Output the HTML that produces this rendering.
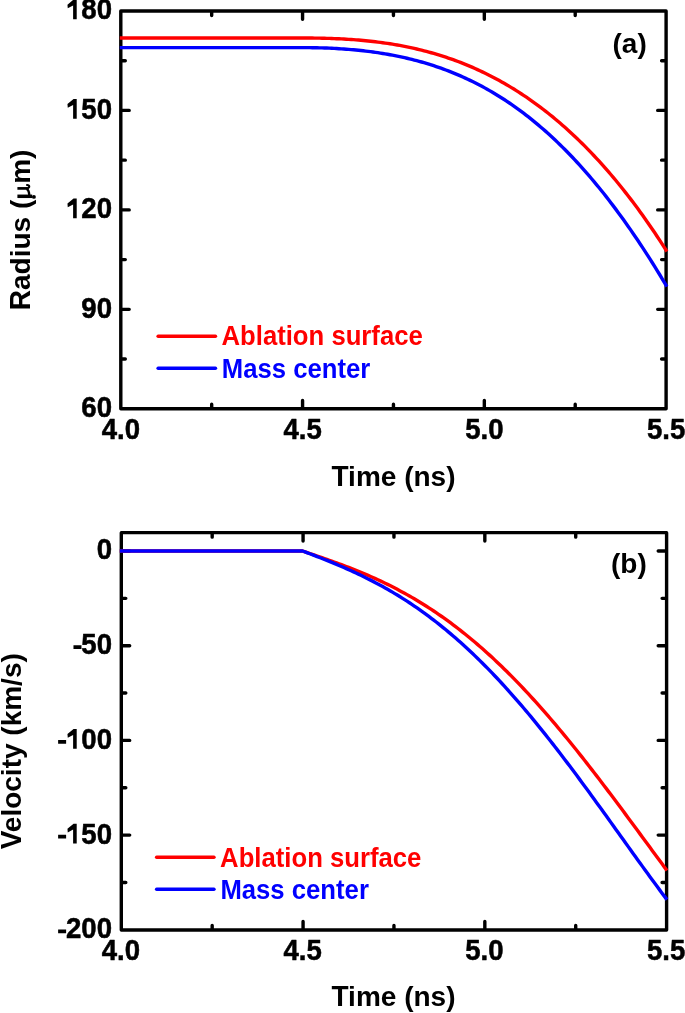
<!DOCTYPE html>
<html><head><meta charset="utf-8"><style>
html,body{margin:0;padding:0;background:#fff;}
body{width:685px;height:1013px;overflow:hidden;font-family:"Liberation Sans",sans-serif;}
svg{display:block;will-change:transform;}
</style></head><body>
<svg width="685" height="1013" viewBox="0 0 685 1013">
<rect x="120.8" y="10.95" width="545.30" height="397.85" fill="none" stroke="#000" stroke-width="3.4" stroke-linejoin="round"/>
<path d="M302.57,407.80 V400.40 M302.57,11.95 V19.35 M484.33,407.80 V400.40 M484.33,11.95 V19.35 M211.68,407.80 V404.30 M211.68,11.95 V15.45 M393.45,407.80 V404.30 M393.45,11.95 V15.45 M575.22,407.80 V404.30 M575.22,11.95 V15.45 M121.80,110.41 H129.20 M665.10,110.41 H657.70 M121.80,209.88 H129.20 M665.10,209.88 H657.70 M121.80,309.34 H129.20 M665.10,309.34 H657.70 M121.80,60.68 H125.30 M665.10,60.68 H661.60 M121.80,160.14 H125.30 M665.10,160.14 H661.60 M121.80,259.61 H125.30 M665.10,259.61 H661.60 M121.80,359.07 H125.30 M665.10,359.07 H661.60" stroke="#000" stroke-width="3.4" stroke-linecap="round" fill="none"/>
<g transform="translate(0.5,0)"><rect x="120.8" y="532.65" width="545.30" height="397.30" fill="none" stroke="#000" stroke-width="3.4" stroke-linejoin="round"/>
<path d="M302.57,928.95 V921.55 M302.57,533.65 V541.05 M484.33,928.95 V921.55 M484.33,533.65 V541.05 M211.68,928.95 V925.45 M211.68,533.65 V537.15 M393.45,928.95 V925.45 M393.45,533.65 V537.15 M575.22,928.95 V925.45 M575.22,533.65 V537.15 M121.80,551.00 H129.20 M665.10,551.00 H657.70 M121.80,645.70 H129.20 M665.10,645.70 H657.70 M121.80,740.40 H129.20 M665.10,740.40 H657.70 M121.80,835.10 H129.20 M665.10,835.10 H657.70 M121.80,598.35 H125.30 M665.10,598.35 H661.60 M121.80,693.05 H125.30 M665.10,693.05 H661.60 M121.80,787.75 H125.30 M665.10,787.75 H661.60 M121.80,882.45 H125.30 M665.10,882.45 H661.60" stroke="#000" stroke-width="3.4" stroke-linecap="round" fill="none"/></g>
<path d="M119.80,38.01 L302.57,38.01 L305.00,38.01 L307.42,38.02 L309.85,38.04 L312.28,38.06 L314.71,38.09 L317.14,38.12 L319.57,38.16 L322.00,38.21 L324.43,38.27 L326.86,38.33 L329.28,38.41 L331.71,38.49 L334.14,38.58 L336.57,38.68 L339.00,38.79 L341.43,38.91 L343.86,39.04 L346.29,39.18 L348.72,39.33 L351.14,39.49 L353.57,39.67 L356.00,39.85 L358.43,40.05 L360.86,40.26 L363.29,40.48 L365.72,40.71 L368.15,40.96 L370.58,41.22 L373.00,41.49 L375.43,41.78 L377.86,42.08 L380.29,42.39 L382.72,42.72 L385.15,43.07 L387.58,43.43 L390.01,43.80 L392.44,44.19 L394.86,44.60 L397.29,45.02 L399.72,45.45 L402.15,45.91 L404.58,46.38 L407.01,46.87 L409.44,47.37 L411.87,47.90 L414.30,48.44 L416.72,49.00 L419.15,49.57 L421.58,50.17 L424.01,50.79 L426.44,51.42 L428.87,52.07 L431.30,52.75 L433.73,53.44 L436.16,54.15 L438.58,54.88 L441.01,55.64 L443.44,56.41 L445.87,57.21 L448.30,58.03 L450.73,58.86 L453.16,59.72 L455.59,60.61 L458.02,61.51 L460.44,62.44 L462.87,63.39 L465.30,64.36 L467.73,65.36 L470.16,66.38 L472.59,67.43 L475.02,68.49 L477.45,69.59 L479.88,70.70 L482.30,71.85 L484.73,73.01 L487.16,74.21 L489.59,75.43 L492.02,76.67 L494.45,77.94 L496.88,79.24 L499.31,80.56 L501.74,81.91 L504.16,83.29 L506.59,84.69 L509.02,86.13 L511.45,87.59 L513.88,89.07 L516.31,90.59 L518.74,92.14 L521.17,93.71 L523.60,95.31 L526.02,96.95 L528.45,98.61 L530.88,100.30 L533.31,102.03 L535.74,103.78 L538.17,105.56 L540.60,107.38 L543.03,109.23 L545.46,111.10 L547.88,113.01 L550.31,114.96 L552.74,116.93 L555.17,118.94 L557.60,120.98 L560.03,123.05 L562.46,125.16 L564.89,127.30 L567.32,129.47 L569.74,131.68 L572.17,133.92 L574.60,136.20 L577.03,138.51 L579.46,140.86 L581.89,143.24 L584.32,145.66 L586.75,148.12 L589.18,150.61 L591.60,153.14 L594.03,155.71 L596.46,158.31 L598.89,160.95 L601.32,163.63 L603.75,166.35 L606.18,169.11 L608.61,171.90 L611.04,174.74 L613.46,177.61 L615.89,180.53 L618.32,183.48 L620.75,186.48 L623.18,189.51 L625.61,192.59 L628.04,195.70 L630.47,198.86 L632.90,202.07 L635.32,205.31 L637.75,208.59 L640.18,211.92 L642.61,215.30 L645.04,218.71 L647.47,222.17 L649.90,225.68 L652.33,229.22 L654.76,232.82 L657.18,236.46 L659.61,240.14 L662.04,243.87 L664.47,247.65 L666.90,251.47" stroke="#f00" stroke-width="3.4" fill="none" stroke-linejoin="round"/>
<path d="M119.80,47.61 L302.57,47.61 L305.00,47.61 L307.42,47.63 L309.85,47.65 L312.28,47.68 L314.71,47.72 L317.14,47.77 L319.57,47.83 L322.00,47.90 L324.43,47.98 L326.86,48.07 L329.28,48.17 L331.71,48.28 L334.14,48.40 L336.57,48.54 L339.00,48.68 L341.43,48.84 L343.86,49.00 L346.29,49.18 L348.72,49.37 L351.14,49.58 L353.57,49.79 L356.00,50.02 L358.43,50.26 L360.86,50.52 L363.29,50.79 L365.72,51.07 L368.15,51.36 L370.58,51.67 L373.00,52.00 L375.43,52.34 L377.86,52.69 L380.29,53.07 L382.72,53.45 L385.15,53.85 L387.58,54.27 L390.01,54.71 L392.44,55.16 L394.86,55.63 L397.29,56.12 L399.72,56.62 L402.15,57.14 L404.58,57.68 L407.01,58.24 L409.44,58.82 L411.87,59.42 L414.30,60.04 L416.72,60.67 L419.15,61.33 L421.58,62.01 L424.01,62.71 L426.44,63.43 L428.87,64.17 L431.30,64.93 L433.73,65.72 L436.16,66.52 L438.58,67.35 L441.01,68.21 L443.44,69.08 L445.87,69.99 L448.30,70.91 L450.73,71.86 L453.16,72.83 L455.59,73.83 L458.02,74.85 L460.44,75.90 L462.87,76.98 L465.30,78.08 L467.73,79.21 L470.16,80.36 L472.59,81.55 L475.02,82.76 L477.45,83.99 L479.88,85.26 L482.30,86.56 L484.73,87.88 L487.16,89.23 L489.59,90.61 L492.02,92.02 L494.45,93.46 L496.88,94.94 L499.31,96.44 L501.74,97.97 L504.16,99.53 L506.59,101.13 L509.02,102.76 L511.45,104.42 L513.88,106.11 L516.31,107.83 L518.74,109.59 L521.17,111.38 L523.60,113.20 L526.02,115.06 L528.45,116.95 L530.88,118.87 L533.31,120.83 L535.74,122.82 L538.17,124.85 L540.60,126.92 L543.03,129.02 L545.46,131.15 L547.88,133.32 L550.31,135.53 L552.74,137.77 L555.17,140.05 L557.60,142.36 L560.03,144.72 L562.46,147.10 L564.89,149.53 L567.32,151.99 L569.74,154.50 L572.17,157.04 L574.60,159.61 L577.03,162.23 L579.46,164.88 L581.89,167.57 L584.32,170.30 L586.75,173.07 L589.18,175.88 L591.60,178.73 L594.03,181.61 L596.46,184.54 L598.89,187.50 L601.32,190.51 L603.75,193.55 L606.18,196.63 L608.61,199.75 L611.04,202.92 L613.46,206.12 L615.89,209.36 L618.32,212.64 L620.75,215.96 L623.18,219.32 L625.61,222.72 L628.04,226.16 L630.47,229.64 L632.90,233.16 L635.32,236.72 L637.75,240.32 L640.18,243.96 L642.61,247.64 L645.04,251.36 L647.47,255.12 L649.90,258.92 L652.33,262.76 L654.76,266.64 L657.18,270.56 L659.61,274.51 L662.04,278.51 L664.47,282.54 L666.90,286.62" stroke="#00f" stroke-width="3.4" fill="none" stroke-linejoin="round"/>
<path d="M119.80,551.00 L302.57,551.00 L305.00,551.83 L307.42,552.66 L309.85,553.49 L312.28,554.32 L314.71,555.15 L317.14,555.99 L319.57,556.83 L322.00,557.68 L324.43,558.53 L326.86,559.38 L329.28,560.24 L331.71,561.11 L334.14,561.99 L336.57,562.88 L339.00,563.77 L341.43,564.67 L343.86,565.59 L346.29,566.51 L348.72,567.45 L351.14,568.40 L353.57,569.36 L356.00,570.33 L358.43,571.32 L360.86,572.32 L363.29,573.34 L365.72,574.37 L368.15,575.41 L370.58,576.47 L373.00,577.55 L375.43,578.65 L377.86,579.76 L380.29,580.89 L382.72,582.04 L385.15,583.21 L387.58,584.39 L390.01,585.60 L392.44,586.83 L394.86,588.07 L397.29,589.34 L399.72,590.63 L402.15,591.93 L404.58,593.26 L407.01,594.62 L409.44,595.99 L411.87,597.39 L414.30,598.80 L416.72,600.25 L419.15,601.71 L421.58,603.20 L424.01,604.71 L426.44,606.25 L428.87,607.81 L431.30,609.40 L433.73,611.01 L436.16,612.64 L438.58,614.30 L441.01,615.99 L443.44,617.70 L445.87,619.43 L448.30,621.19 L450.73,622.98 L453.16,624.79 L455.59,626.63 L458.02,628.50 L460.44,630.39 L462.87,632.30 L465.30,634.25 L467.73,636.22 L470.16,638.21 L472.59,640.24 L475.02,642.28 L477.45,644.36 L479.88,646.46 L482.30,648.59 L484.73,650.74 L487.16,652.92 L489.59,655.13 L492.02,657.36 L494.45,659.62 L496.88,661.91 L499.31,664.22 L501.74,666.56 L504.16,668.92 L506.59,671.31 L509.02,673.72 L511.45,676.16 L513.88,678.63 L516.31,681.12 L518.74,683.63 L521.17,686.17 L523.60,688.73 L526.02,691.32 L528.45,693.93 L530.88,696.57 L533.31,699.23 L535.74,701.91 L538.17,704.62 L540.60,707.35 L543.03,710.10 L545.46,712.87 L547.88,715.67 L550.31,718.49 L552.74,721.33 L555.17,724.19 L557.60,727.07 L560.03,729.97 L562.46,732.89 L564.89,735.83 L567.32,738.79 L569.74,741.77 L572.17,744.76 L574.60,747.78 L577.03,750.81 L579.46,753.86 L581.89,756.92 L584.32,760.01 L586.75,763.10 L589.18,766.22 L591.60,769.34 L594.03,772.49 L596.46,775.64 L598.89,778.81 L601.32,781.99 L603.75,785.19 L606.18,788.39 L608.61,791.61 L611.04,794.83 L613.46,798.07 L615.89,801.31 L618.32,804.57 L620.75,807.83 L623.18,811.10 L625.61,814.38 L628.04,817.66 L630.47,820.94 L632.90,824.24 L635.32,827.53 L637.75,830.83 L640.18,834.13 L642.61,837.44 L645.04,840.74 L647.47,844.05 L649.90,847.35 L652.33,850.66 L654.76,853.96 L657.18,857.26 L659.61,860.56 L662.04,863.85 L664.47,867.14 L666.90,870.42" stroke="#f00" stroke-width="3.4" fill="none" stroke-linejoin="round"/>
<path d="M119.80,551.00 L302.57,551.00 L305.00,551.92 L307.42,552.85 L309.85,553.78 L312.28,554.71 L314.71,555.65 L317.14,556.59 L319.57,557.54 L322.00,558.50 L324.43,559.46 L326.86,560.43 L329.28,561.42 L331.71,562.41 L334.14,563.41 L336.57,564.42 L339.00,565.45 L341.43,566.49 L343.86,567.54 L346.29,568.60 L348.72,569.68 L351.14,570.78 L353.57,571.89 L356.00,573.01 L358.43,574.15 L360.86,575.31 L363.29,576.49 L365.72,577.68 L368.15,578.90 L370.58,580.13 L373.00,581.38 L375.43,582.65 L377.86,583.94 L380.29,585.26 L382.72,586.59 L385.15,587.95 L387.58,589.32 L390.01,590.72 L392.44,592.15 L394.86,593.59 L397.29,595.06 L399.72,596.56 L402.15,598.08 L404.58,599.62 L407.01,601.18 L409.44,602.78 L411.87,604.39 L414.30,606.04 L416.72,607.70 L419.15,609.40 L421.58,611.12 L424.01,612.87 L426.44,614.64 L428.87,616.44 L431.30,618.27 L433.73,620.12 L436.16,622.00 L438.58,623.91 L441.01,625.85 L443.44,627.81 L445.87,629.81 L448.30,631.83 L450.73,633.87 L453.16,635.95 L455.59,638.05 L458.02,640.18 L460.44,642.34 L462.87,644.53 L465.30,646.74 L467.73,648.98 L470.16,651.25 L472.59,653.55 L475.02,655.88 L477.45,658.23 L479.88,660.61 L482.30,663.02 L484.73,665.46 L487.16,667.92 L489.59,670.41 L492.02,672.92 L494.45,675.47 L496.88,678.04 L499.31,680.64 L501.74,683.26 L504.16,685.91 L506.59,688.58 L509.02,691.28 L511.45,694.01 L513.88,696.76 L516.31,699.53 L518.74,702.33 L521.17,705.15 L523.60,708.00 L526.02,710.87 L528.45,713.76 L530.88,716.68 L533.31,719.62 L535.74,722.58 L538.17,725.56 L540.60,728.57 L543.03,731.59 L545.46,734.64 L547.88,737.70 L550.31,740.78 L552.74,743.89 L555.17,747.01 L557.60,750.15 L560.03,753.31 L562.46,756.48 L564.89,759.67 L567.32,762.88 L569.74,766.10 L572.17,769.34 L574.60,772.59 L577.03,775.85 L579.46,779.13 L581.89,782.42 L584.32,785.72 L586.75,789.03 L589.18,792.36 L591.60,795.69 L594.03,799.03 L596.46,802.38 L598.89,805.74 L601.32,809.11 L603.75,812.48 L606.18,815.86 L608.61,819.24 L611.04,822.62 L613.46,826.01 L615.89,829.40 L618.32,832.80 L620.75,836.19 L623.18,839.58 L625.61,842.98 L628.04,846.37 L630.47,849.76 L632.90,853.14 L635.32,856.52 L637.75,859.90 L640.18,863.26 L642.61,866.63 L645.04,869.98 L647.47,873.32 L649.90,876.66 L652.33,879.98 L654.76,883.29 L657.18,886.59 L659.61,889.87 L662.04,893.14 L664.47,896.39 L666.90,899.63" stroke="#00f" stroke-width="3.4" fill="none" stroke-linejoin="round"/>
<g font-family="'Liberation Sans', sans-serif" font-weight="bold" font-size="27.6" fill="#000" stroke="#000" stroke-width="0.5" stroke-linejoin="round"><text transform="translate(112.00,19.35) scale(1,1.1)" text-anchor="end"><tspan visibility="hidden">1</tspan>80</text>
<text transform="translate(112.00,118.81) scale(1,1.1)" text-anchor="end"><tspan visibility="hidden">1</tspan>50</text>
<text transform="translate(112.00,218.28) scale(1,1.1)" text-anchor="end"><tspan visibility="hidden">1</tspan>20</text>
<text transform="translate(112.00,317.74) scale(1,1.1)" text-anchor="end">90</text>
<text transform="translate(112.00,417.20) scale(1,1.1)" text-anchor="end">60</text>
<text transform="translate(112.00,559.40) scale(1,1.1)" text-anchor="end">0</text>
<text transform="translate(112.00,654.10) scale(1,1.1)" text-anchor="end">50</text>
<text transform="translate(112.00,748.80) scale(1,1.1)" text-anchor="end"><tspan visibility="hidden">1</tspan>00</text>
<text transform="translate(112.00,843.50) scale(1,1.1)" text-anchor="end"><tspan visibility="hidden">1</tspan>50</text>
<text transform="translate(112.00,938.20) scale(1,1.1)" text-anchor="end">200</text>
<text transform="translate(120.80,438.50) scale(1,1.1)" text-anchor="middle">4.0</text>
<text transform="translate(120.80,960.40) scale(1,1.1)" text-anchor="middle">4.0</text>
<text transform="translate(302.57,438.50) scale(1,1.1)" text-anchor="middle">4.5</text>
<text transform="translate(302.57,960.40) scale(1,1.1)" text-anchor="middle">4.5</text>
<text transform="translate(484.33,438.50) scale(1,1.1)" text-anchor="middle">5.0</text>
<text transform="translate(484.33,960.40) scale(1,1.1)" text-anchor="middle">5.0</text>
<text transform="translate(666.10,438.50) scale(1,1.1)" text-anchor="middle">5.5</text>
<text transform="translate(666.10,960.40) scale(1,1.1)" text-anchor="middle">5.5</text></g>
<path fill="#000" d="M76.71,19.35 L76.71,-0.45 L73.56,-0.45 L67.46,4.65 L67.76,8.25 L73.11,5.45 L73.11,19.35Z M76.71,118.81 L76.71,99.01 L73.56,99.01 L67.46,104.11 L67.76,107.71 L73.11,104.91 L73.11,118.81Z M76.71,218.28 L76.71,198.47 L73.56,198.47 L67.46,203.58 L67.76,207.18 L73.11,204.38 L73.11,218.28Z M76.71,748.80 L76.71,729.00 L73.56,729.00 L67.46,734.10 L67.76,737.70 L73.11,734.90 L73.11,748.80Z M76.71,843.50 L76.71,823.70 L73.56,823.70 L67.46,828.80 L67.76,832.40 L73.11,829.60 L73.11,843.50Z M73.47,645.30 h8.0 v3.8 h-8.0 Z M58.12,740.00 h8.0 v3.8 h-8.0 Z M58.12,834.70 h8.0 v3.8 h-8.0 Z M58.12,929.40 h8.0 v3.8 h-8.0 Z"/>
<g font-family="'Liberation Sans', sans-serif" font-weight="bold" font-size="28" fill="#000"><text transform="translate(331.50,485.90)"><tspan visibility="hidden">T</tspan>ime (ns)</text><text transform="translate(331.50,485.90) scale(1,1.06)">T</text>
<text transform="translate(331.50,1006.10)"><tspan visibility="hidden">T</tspan>ime (ns)</text><text transform="translate(331.50,1006.10) scale(1,1.06)">T</text>
<text transform="translate(29.90,310.20) rotate(-90)"><tspan visibility="hidden">R</tspan>adius (<tspan visibility="hidden" font-family="'Liberation Serif', serif">&#956;</tspan>m)</text><text transform="translate(29.90,310.20) rotate(-90) scale(1,1.06)">R</text>
<text transform="translate(20.70,849.30) rotate(-90)"><tspan visibility="hidden">V</tspan>elocity (km/s)</text><text transform="translate(20.70,849.30) rotate(-90) scale(1,1.06)">V</text>
<text transform="translate(612.50,52.50)">(a)</text>
<text transform="translate(611.00,572.80)">(b)</text></g>
<g fill="none" stroke="#000"><path d="M17.4,188.4 H27.6" stroke-width="2.7"/><path d="M17.4,196.3 H32.2" stroke-width="3.5"/><path d="M26.8,188.8 Q29.0,190.4 29.3,195.0" stroke-width="2.3"/><path d="M27.2,188.2 C29.9,187.9 30.1,185.1 27.0,185.0" stroke-width="2.0" stroke-linecap="round"/></g><circle cx="33.9" cy="196.9" r="1.95" fill="#000"/>
<path d="M158.10,336.25 H215.50" stroke="#f00" stroke-width="3.4" stroke-linecap="round"/>
<path d="M158.10,368.20 H215.50" stroke="#00f" stroke-width="3.4" stroke-linecap="round"/>
<text transform="translate(221.50,345.40) scale(1,1.04)" fill="#f00" font-family="'Liberation Sans', sans-serif" font-weight="bold" font-size="25.7"><tspan visibility="hidden">A</tspan>blation surface</text><text transform="translate(221.50,345.40) scale(1,1.065)" fill="#f00" font-family="'Liberation Sans', sans-serif" font-weight="bold" font-size="25.7">A</text>
<text transform="translate(221.80,377.70) scale(1,1.04)" fill="#00f" font-family="'Liberation Sans', sans-serif" font-weight="bold" font-size="25.7"><tspan visibility="hidden">M</tspan>ass center</text><text transform="translate(221.80,377.70) scale(1,1.065)" fill="#00f" font-family="'Liberation Sans', sans-serif" font-weight="bold" font-size="25.7">M</text>
<path d="M156.60,857.25 H214.00" stroke="#f00" stroke-width="3.4" stroke-linecap="round"/>
<path d="M156.60,889.20 H214.00" stroke="#00f" stroke-width="3.4" stroke-linecap="round"/>
<text transform="translate(220.10,866.70) scale(1,1.04)" fill="#f00" font-family="'Liberation Sans', sans-serif" font-weight="bold" font-size="25.7"><tspan visibility="hidden">A</tspan>blation surface</text><text transform="translate(220.10,866.70) scale(1,1.065)" fill="#f00" font-family="'Liberation Sans', sans-serif" font-weight="bold" font-size="25.7">A</text>
<text transform="translate(220.40,899.00) scale(1,1.04)" fill="#00f" font-family="'Liberation Sans', sans-serif" font-weight="bold" font-size="25.7"><tspan visibility="hidden">M</tspan>ass center</text><text transform="translate(220.40,899.00) scale(1,1.065)" fill="#00f" font-family="'Liberation Sans', sans-serif" font-weight="bold" font-size="25.7">M</text>
</svg>
</body></html>
